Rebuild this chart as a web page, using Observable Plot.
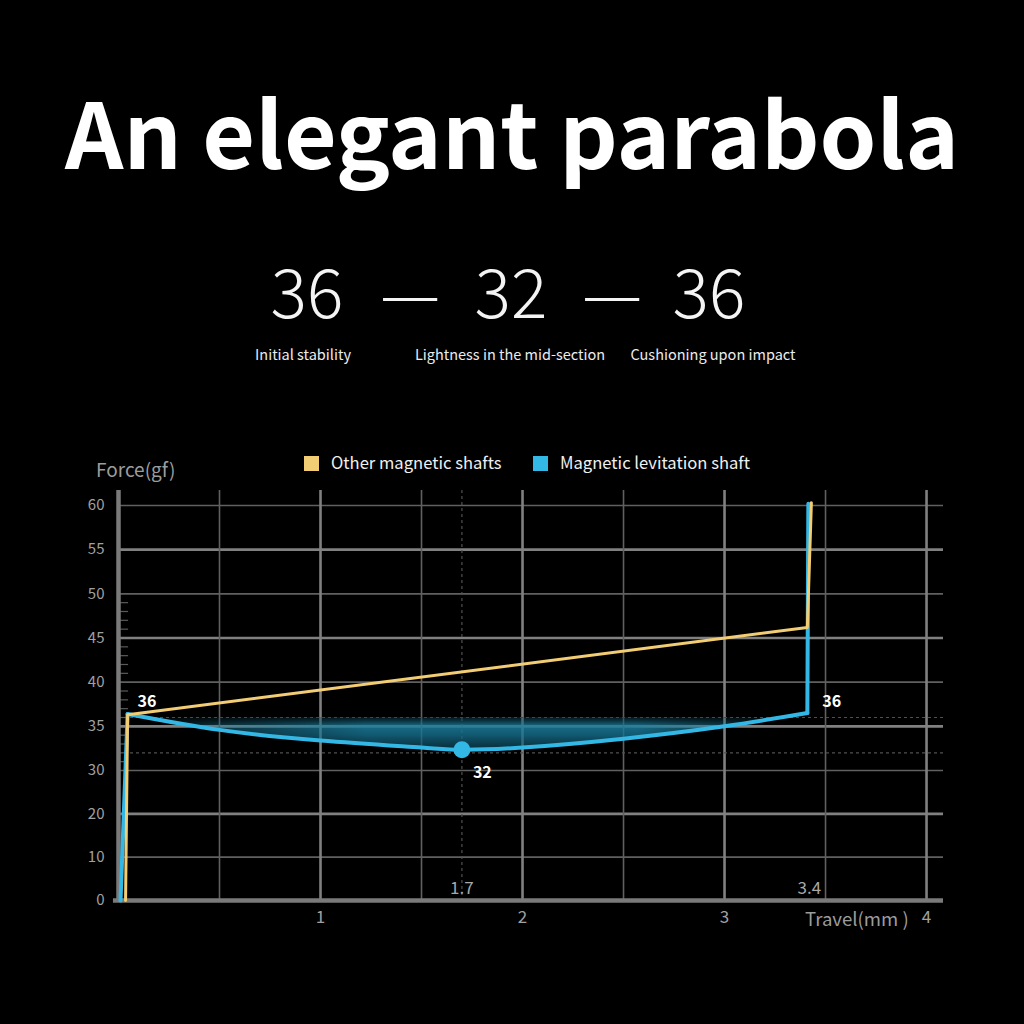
<!DOCTYPE html>
<html>
<head>
<meta charset="utf-8">
<script src="https://cdn.jsdelivr.net/npm/d3@7"></script>
<script src="https://cdn.jsdelivr.net/npm/@observablehq/plot@0.6"></script>
<style>
  html, body { margin: 0; padding: 0; background: #000; }
  #page { position: relative; width: 1024px; height: 1024px; background: #000; overflow: hidden;
          font-family: "Noto Sans CJK SC", "Noto Sans", sans-serif; color: #fff; }
  .abs { position: absolute; white-space: nowrap; }
  #title { left: 0; width: 1024px; top: 84px; text-align: center; font-size: 91px; font-weight: 700;
           line-height: 1; letter-spacing: 0px; color: #fff; }
  .big { top: 255px; font-size: 68px; font-weight: 300; line-height: 1; transform: translateX(-50%); color: #f4f4f4; }
  .cap { top: 343px; font-size: 14.5px; transform: translateX(-50%); color: #ececec; }
  .leg { top: 451px; font-size: 16.6px; color: #f0f0f0; line-height: 22px; }
  .sw { display: inline-block; width: 15px; height: 15px; vertical-align: -2px; margin-right: 12px; }
  .axl { color: #9c9c9c; }
  #chart { position: absolute; left: 0; top: 430px; }
</style>
</head>
<body>
<div id="page">
  <div id="title" class="abs"></div>
  <div id="bigs"></div>
  <div id="caps"></div>
  <div id="legend"></div>
  <div id="ylab" class="abs axl" style="left:96px; top:455px; font-size:19px;"></div>
  <div id="xlab" class="abs axl" style="left:805px; top:904px; font-size:18.6px;"></div>
  <div id="chart"></div>
</div>
<script>
// ---------- text ----------
const titleText = "An elegant parabola";
const headlineValues = ["36", "—", "32", "—", "36"];
const headlineCenters = [307, 410, 511, 612, 709];
const captions = ["Initial stability", "Lightness in the mid-section", "Cushioning upon impact"];
const captionCenters = [303, 510, 713];
const seriesNames = ["Other magnetic shafts", "Magnetic levitation shaft"];
const seriesColors = ["#f3cd74", "#33b8e6"];
const yLabel = "Force(gf)";
const xLabel = "Travel(mm )";

// ---------- data ----------
// Magnetic levitation shaft (blue)
const blueRiseX = [0.01, 0.045];
const blueRiseY = [0, 36.4];
const blueCurveX = [0.045, 0.5, 1.0, 1.5, 1.7, 2.0, 2.5, 3.0, 3.41];
const blueCurveY = [36.4, 34.6, 33.4, 32.6, 32.35, 32.6, 33.6, 35.0, 36.5];
const blueImpactX = [3.41, 3.415];
const blueImpactY = [36.5, 60.2];
// Other magnetic shafts (yellow)
const yellowX = [0.035, 0.045, 3.41, 3.43];
const yellowY = [0, 36.3, 46.2, 60.3];

// key points
const keyX = [0.045, 1.7, 3.41];
const keyY = [36, 32, 36];
const keyLabels = ["36", "32", "36"];
const minPointX = [1.7];
const minPointY = [32.35];
const refLinesY = [32, 36];
const refLinesX = [1.7];
const refTickX = [1.7, 3.42];
const refTickLabels = ["1.7", "3.4"];

// axes / grid
const yTicks = [0, 10, 20, 30, 35, 40, 45, 50, 55, 60];
const yGridThick = [20, 35, 45, 55];
const yGridThin = [10, 30, 40, 50, 60];
const yMinorTicks = [31, 32, 33, 34, 36, 37, 38, 39, 41, 42, 43, 44, 46, 47, 48, 49];
const xTicks = [1, 2, 3, 4];
const xGridMajor = [1, 2, 3, 4];
const xGridMinor = [0.5, 1.5, 2.5, 3.5];

// ---------- HTML text ----------
document.getElementById("title").textContent = titleText;
const bigs = document.getElementById("bigs");
headlineValues.forEach((t, i) => {
  const d = document.createElement("div");
  d.className = "abs big";
  d.style.left = headlineCenters[i] + "px";
  d.textContent = t;
  bigs.appendChild(d);
});
const caps = document.getElementById("caps");
captions.forEach((t, i) => {
  const d = document.createElement("div");
  d.className = "abs cap";
  d.style.left = captionCenters[i] + "px";
  d.textContent = t;
  caps.appendChild(d);
});
const legend = document.getElementById("legend");
const legLeft = [304, 533];
seriesNames.forEach((t, i) => {
  const d = document.createElement("div");
  d.className = "abs leg";
  d.style.left = legLeft[i] + "px";
  d.innerHTML = `<span class="sw" style="background:${seriesColors[i]}"></span>`;
  d.appendChild(document.createTextNode(t));
  legend.appendChild(d);
});
document.getElementById("ylab").textContent = yLabel;
document.getElementById("xlab").textContent = xLabel;

// ---------- chart ----------
const toPts = (xs, ys) => xs.map((x, i) => ({x, y: ys[i]}));
const blueRise = toPts(blueRiseX, blueRiseY);
const blueCurve = toPts(blueCurveX, blueCurveY);
const blueImpact = toPts(blueImpactX, blueImpactY);
const yellow = toPts(yellowX, yellowY);
const keys = keyX.map((x, i) => ({x, y: keyY[i], label: keyLabels[i]}));
const minPt = toPts(minPointX, minPointY);
const refTicks = refTickX.map((x, i) => ({x, label: refTickLabels[i]}));

const gridThick = {stroke: "#808080", strokeWidth: 2.6};
const gridThin = {stroke: "#606060", strokeWidth: 1.6};
const dashed = {stroke: "#505050", strokeWidth: 1.2, strokeDasharray: "3,3"};

const chart = Plot.plot({
  width: 1024,
  height: 520,
  marginLeft: 118,
  marginRight: 81,
  marginTop: 60,
  marginBottom: 50,
  style: {background: "transparent", color: "#a0a0a0", fontFamily: "Noto Sans CJK SC, Noto Sans, sans-serif", fontSize: "15px"},
  x: {type: "linear", domain: [0, 4.084]},
  y: {type: "linear", domain: [0, 30, 60, 61.7], range: [470, 340, 75, 60]},
  marks: [
    Plot.ruleY(yGridThin, {y: d => d, ...gridThin}),
    Plot.ruleY(yGridThick, {y: d => d, ...gridThick}),
    Plot.ruleX(xGridMinor, {x: d => d, ...gridThin}),
    Plot.ruleX(xGridMajor, {x: d => d, ...gridThick}),
    Plot.ruleY(refLinesY, {y: d => d, ...dashed}),
    Plot.ruleX(refLinesX, {x: d => d, ...dashed}),
    Plot.ruleY(yMinorTicks, {y: d => d, x1: 0, x2: 0.04, stroke: "#5a5a5a", strokeWidth: 1.2, dx: 2}),
    Plot.ruleX([0], {stroke: "#7a7a7a", strokeWidth: 4.5}),
    Plot.ruleY([0], {stroke: "#7a7a7a", strokeWidth: 4.5, x1: -0.025, x2: 4.084}),
    Plot.axisY({ticks: yTicks, tickSize: 0, tickPadding: 14, label: null, fontSize: 15, tickFormat: d => `${d}`}),
    Plot.axisX({ticks: xTicks, tickSize: 0, tickPadding: 10, label: null, fontSize: 17, tickFormat: d => `${d}`}),
    Plot.text(refTicks, {x: "x", text: "label", frameAnchor: "bottom", dy: -7, fontSize: 17, fill: "#a8a8a8"}),
    Plot.areaY(blueCurve, {x: "x", y1: keyY[0], y2: "y", fill: "url(#glowV)", curve: "natural"}),
    Plot.line(blueRise, {x: "x", y: "y", stroke: seriesColors[1], strokeWidth: 4}),
    Plot.line(blueCurve, {x: "x", y: "y", stroke: seriesColors[1], strokeWidth: 4, curve: "natural"}),
    Plot.line(blueImpact, {x: "x", y: "y", stroke: seriesColors[1], strokeWidth: 4}),
    Plot.line(yellow, {x: "x", y: "y", stroke: seriesColors[0], strokeWidth: 3}),
    Plot.dot(minPt, {x: "x", y: "y", r: 8.5, fill: seriesColors[1], stroke: null}),
    Plot.text(keys.filter((d, i) => i === 0), {x: "x", y: "y", text: "label", textAnchor: "start", dx: 10, dy: -16, fontSize: 16, fontWeight: 700, fill: "#fff"}),
    Plot.text(keys.filter((d, i) => i === 2), {x: "x", y: "y", text: "label", textAnchor: "start", dx: 15, dy: -16, fontSize: 16, fontWeight: 700, fill: "#fff"}),
    Plot.text(keys.filter((d, i) => i === 1), {x: "x", y: "y", text: "label", textAnchor: "start", dx: 11, dy: 20, fontSize: 16, fontWeight: 700, fill: "#fff"})
  ]
});

// gradients for the glow under the blue curve
const ys = chart.scale("y"), xs = chart.scale("x");
const svg = d3.select(chart);
const defs = svg.insert("defs", ":first-child");
const gv = defs.append("linearGradient").attr("id", "glowV").attr("gradientUnits", "userSpaceOnUse")
  .attr("x1", 0).attr("x2", 0).attr("y1", ys.apply(36)).attr("y2", ys.apply(32));
[[0, "#0b3f52", 0.35], [0.25, "#1d7f9e", 0.85], [0.5, "#16708f", 0.8], [1, "#0c4558", 0.55]].forEach(([o, c, a]) =>
  gv.append("stop").attr("offset", o).attr("stop-color", c).attr("stop-opacity", a));
const gh = defs.append("linearGradient").attr("id", "glowH").attr("gradientUnits", "userSpaceOnUse")
  .attr("x1", xs.apply(0.05)).attr("x2", xs.apply(3.41)).attr("y1", 0).attr("y2", 0);
[[0, 0.05], [0.15, 0.55], [0.35, 1], [0.75, 1], [0.93, 0.4], [1, 0.2]].forEach(([o, a]) =>
  gh.append("stop").attr("offset", o).attr("stop-color", "#fff").attr("stop-opacity", a));
const mask = defs.append("mask").attr("id", "hmask").attr("maskUnits", "userSpaceOnUse")
  .attr("x", 0).attr("y", 0).attr("width", 1024).attr("height", 520);
mask.append("rect").attr("x", 0).attr("y", 0).attr("width", 1024).attr("height", 520).attr("fill", "url(#glowH)");
svg.selectAll('g[aria-label="area"]').attr("mask", "url(#hmask)");

document.getElementById("chart").appendChild(chart);
</script>
</body>
</html>
